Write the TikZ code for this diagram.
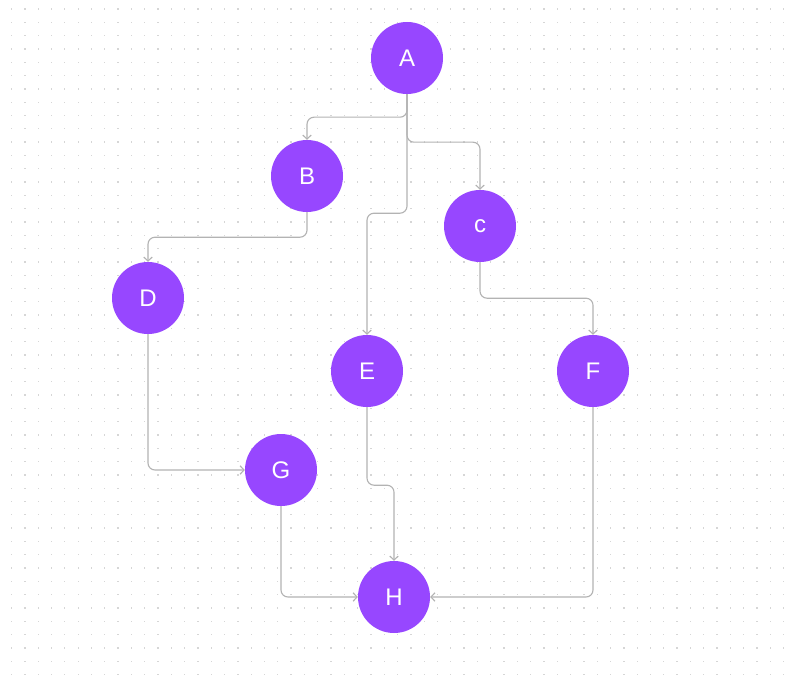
\documentclass[tikz,border=0pt]{standalone}
\usepackage{fontspec}
\setmainfont{Liberation Sans}
\usetikzlibrary{arrows.meta}
\definecolor{nodepurple}{HTML}{9747FF}
\definecolor{linegray}{HTML}{B3B3B3}
\definecolor{dotgray}{HTML}{D6D6D6}
\tikzset{
  vertex/.style={circle, fill=nodepurple, minimum size=72pt, inner sep=0pt, text=white, font=\fontsize{24}{24}\selectfont},
  conn/.style={draw=linegray, line width=1.1pt, rounded corners=7pt, -{Straight Barb[length=4pt,width=8.5pt,line width=1.1pt]}},
}
\begin{document}
\begin{tikzpicture}[x=1pt,y=-1pt]
\fill[white] (0,0) rectangle (789,679);
\useasboundingbox (0,0) rectangle (789,679);
\foreach \i in {0,...,58}{
  \foreach \j in {0,...,50}{
    \fill[dotgray] ({11.6+13.31*\i-0.65},{9+13.31*\j-0.65}) rectangle ++(1.3,1.3);
  }
}
\node[vertex] (A) at (407,58) {A};
\node[vertex] (B) at (307,176) {B};
\node[vertex] (C) at (480,226) {c};
\node[vertex] (D) at (148,298) {D};
\node[vertex] (E) at (367,371) {E};
\node[vertex] (F) at (593,371) {F};
\node[vertex] (G) at (281,470) {G};
\node[vertex] (H) at (394,597) {H};
\draw[conn] (A.south) -- ++(0,23) -| (B.north);
\draw[conn] (A.south) -- ++(0,119) -| (E.north);
\draw[conn] (A.south) -- ++(0,48) -| (C.north);
\draw[conn] (B.south) -- ++(0,25) -| (D.north);
\draw[conn] (C.south) -- ++(0,36) -| (F.north);
\draw[conn] (D.south) |- (G.west);
\draw[conn] (E.south) -- ++(0,78) -| (H.north);
\draw[conn] (G.south) |- (H.west);
\draw[conn] (F.south) |- (H.east);
\end{tikzpicture}
\end{document}
